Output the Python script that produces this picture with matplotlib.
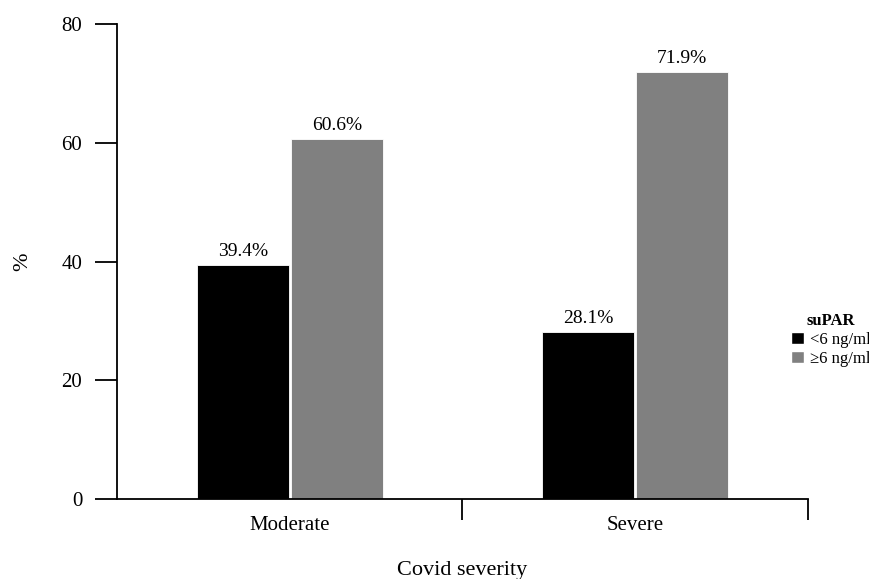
import matplotlib
matplotlib.use("Agg")
import matplotlib.pyplot as plt
from matplotlib.patches import Patch
import numpy as np

plt.rcParams['font.family'] = ['Liberation Serif', 'DejaVu Serif']

categories = ['Moderate', 'Severe']
low_supar = [39.4, 28.1]     # <6 ng/ml
high_supar = [60.6, 71.9]    # >=6 ng/ml
series_names = ['<6 ng/ml', '\u22656 ng/ml']
colors = ['#000000', '#808080']

fig = plt.figure(figsize=(8.7, 5.79), dpi=100)
ax = fig.add_axes([0.1345, 0.1382, 0.7942, 0.8203])

centers = np.arange(len(categories)) + 0.5
w = 0.265
off = 0.136
b1 = ax.bar(centers - off, low_supar, w, color=colors[0], edgecolor='white', linewidth=0.6)
b2 = ax.bar(centers + off, high_supar, w, color=colors[1], edgecolor='white', linewidth=0.6)

for bars, vals in ((b1, low_supar), (b2, high_supar)):
    for r, v in zip(bars, vals):
        ax.text(r.get_x() + r.get_width() / 2, v + 0.9, f'{v}%',
                ha='center', va='bottom', fontsize=14)

ax.set_xlim(0, 2)
ax.set_ylim(0, 80)
ax.set_yticks([0, 20, 40, 60, 80])
ax.set_xticks([1, 2])
ax.set_xticklabels([])
ax.set_xticks(centers, minor=True)
ax.set_xticklabels(categories, minor=True, fontsize=15)
ax.tick_params(axis='x', which='major', length=15, width=1.3, direction='out')
ax.tick_params(axis='x', which='minor', length=0, pad=12)
ax.tick_params(axis='y', length=16, width=1.3, labelsize=15, pad=9)

for s in ['top', 'right']:
    ax.spines[s].set_visible(False)
for s in ['left', 'bottom']:
    ax.spines[s].set_linewidth(1.3)

ax.set_xlabel('Covid severity', fontsize=16, labelpad=19)
ax.set_ylabel('%', fontsize=16, labelpad=21)

handles = [Patch(facecolor=c, edgecolor='white') for c in colors]
leg = ax.legend(handles, series_names, title='suPAR', loc='center left',
                bbox_to_anchor=(0.954, 0.335), frameon=False, fontsize=12,
                title_fontproperties={'weight': 'bold', 'size': 12},
                handlelength=0.75, handleheight=0.75, handletextpad=0.4,
                labelspacing=0.2)

fig.savefig('out.png', dpi=100)
